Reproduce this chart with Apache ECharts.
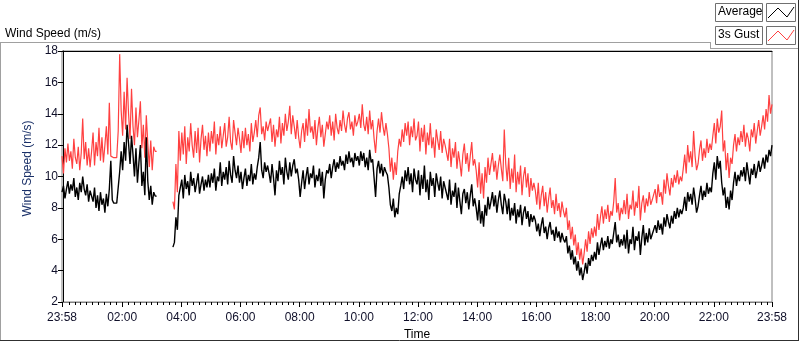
<!DOCTYPE html>
<html>
<head>
<meta charset="utf-8">
<script src="https://cdn.jsdelivr.net/npm/echarts@6/dist/echarts.min.js"></script>
<style>
  html, body { margin: 0; padding: 0; background: #fff; }
  #chart { width: 800px; height: 342px; }
</style>
</head>
<body>
<div id="chart"></div>
<script>
// samples every 3 minutes, starting 23:58 (= -2 min) and running one day
const sampleStart = -2;
const sampleStep = 3;

// Average wind speed (m/s), one row per hour
const avgSpeed = [
  9.0, 9.4, 8.6, 9.2, 9.7, 8.9, 9.5, 9.1, 9.9, 8.7, 9.3, 8.5, 9.6, 9.0, 10.0, 9.2, 8.8, 9.5, 8.4, 9.1,
  9.1, 8.4, 9.3, 8.0, 8.8, 7.8, 9.0, 8.2, 8.6, 7.7, 8.9, 8.1, 9.2, 11.0, 8.5, 8.3, 8.3, 8.3, 8.4, 10.3,
  11.6, 10.4, 12.2, 11.0, 13.3, 12.1, 10.8, 12.6, 11.4, 10.0, 11.8, 9.6, 10.9, 12.0, 9.4, 10.3, 8.8, 12.5, 9.7, 8.5,
  9.4, 8.2, 9.0, 8.75, 8.75, null, null, null, null, null, null, null, null, null, null, 5.5, 5.8, 7.4, 6.6, 8.8,
  8.9, 9.8, 8.6, 10.1, 9.2, 9.7, 8.8, 10.3, 9.4, 9.9, 9.0, 9.6, 10.2, 8.9, 9.5, 10.0, 9.1, 9.8, 9.3, 10.1,
  9.3, 10.2, 9.6, 10.5, 9.1, 10.0, 9.7, 10.9, 9.4, 10.3, 9.8, 10.6, 9.5, 11.0, 10.1, 9.6, 11.3, 10.4, 9.9, 10.7,
  9.6, 10.3, 9.2, 9.9, 10.5, 9.4, 10.1, 9.7, 10.8, 9.5, 10.2, 9.8, 10.6, 11.2, 12.2, 10.4, 9.9, 10.9, 10.3, 10.7,
  10.2, 9.6, 10.8, 9.9, 8.8, 10.4, 9.7, 11.0, 10.1, 10.6, 9.5, 11.2, 10.3, 9.8, 10.9, 10.0, 10.7, 11.1, 10.2, 10.5,
  9.8, 8.7, 9.6, 10.4, 9.2, 10.0, 10.6, 9.5, 10.2, 9.9, 10.7, 9.3, 10.1, 9.7, 10.5, 9.4, 10.3, 8.6, 9.8, 10.4,
  10.2, 10.8, 9.9, 10.6, 11.1, 10.3, 10.9, 10.5, 11.3, 10.7, 11.0, 10.4, 11.4, 10.8, 11.6, 10.9, 11.2, 10.6, 11.5, 11.0,
  11.3, 10.7, 11.6, 11.0, 11.5, 10.6, 11.2, 10.4, 11.7, 10.9, 11.1, 9.9, 8.7, 10.5, 11.0, 10.2, 10.8, 10.0, 10.6, 10.3,
  10.1, 9.3, 8.2, 7.8, 8.6, 7.4, 8.0, 7.6, 8.9, 9.4, 10.0, 9.2, 10.4, 9.7, 10.6, 9.5, 10.2, 9.0, 10.5, 9.8,
  9.5, 10.4, 8.8, 10.1, 9.2, 10.7, 9.0, 9.8, 8.5, 10.3, 9.4, 9.9, 8.7, 10.2, 9.6, 9.1, 10.0, 8.6, 9.7, 9.3,
  9.4, 8.5, 9.8, 8.2, 9.1, 8.7, 9.6, 8.0, 9.3, 8.4, 7.6, 8.9, 9.2, 8.3, 9.0, 7.9, 8.8, 9.5, 8.1, 8.6,
  8.0, 7.2, 8.5, 7.0, 7.8, 6.8, 8.2, 7.5, 8.7, 7.9, 8.4, 9.0, 8.1, 8.8, 7.7, 8.5, 9.1, 8.2, 7.6, 8.9,
  8.4, 7.6, 8.6, 7.2, 8.0, 7.5, 8.3, 7.0, 7.9, 7.4, 8.2, 6.9, 7.7, 8.1, 7.3, 7.8, 6.8, 7.6, 7.1, 7.5,
  7.2, 6.5, 7.0, 6.2, 6.9, 7.4, 6.4, 6.8, 6.0, 6.7, 7.1, 6.3, 6.6, 5.9, 6.8, 6.1, 6.5, 5.8, 6.4, 6.0,
  5.8, 6.2, 5.1, 5.6, 4.7, 5.3, 4.4, 4.9, 4.0, 4.6, 3.7, 4.2, 3.4, 3.9, 4.5, 3.8, 4.8, 4.3, 5.0, 4.6,
  5.2, 4.7, 5.8, 5.0, 5.6, 6.1, 5.3, 5.9, 5.5, 6.2, 5.4, 6.0, 5.7, 6.4, 7.1, 5.8, 6.3, 5.5, 6.0, 5.6,
  6.3, 5.4, 6.6, 5.1, 6.0, 5.7, 6.8, 5.3, 6.2, 5.9, 6.5, 5.0, 6.1, 6.9, 5.6, 6.4, 5.8, 6.7, 6.0, 6.3,
  6.2, 6.9, 6.4, 7.2, 6.6, 7.0, 6.3, 7.4, 6.8, 7.6, 7.1, 6.7, 7.5, 7.0, 7.8, 7.3, 8.0, 7.4, 7.9, 7.6,
  8.0, 8.7, 7.8, 9.0, 8.4, 8.9, 8.2, 9.3, 8.6, 7.7, 8.1, 8.8, 9.4, 8.5, 9.1, 8.7, 9.6, 8.9, 9.3, 9.0,
  10.2, 10.9, 9.8, 11.3, 10.5, 11.0, 9.6, 8.8, 9.3, 8.0, 8.7, 7.9, 9.1, 8.5, 9.6, 10.3, 9.4, 10.1, 9.7, 10.4,
  10.0, 10.6, 9.7, 10.9, 10.2, 9.5, 10.5, 10.1, 10.8, 9.9, 10.4, 11.0, 10.3, 10.7, 11.2, 10.5, 11.4, 10.9, 11.7, 11.3,
  12.0
];

// 3 second gust (m/s)
const gustSpeed = [
  11.3, 10.2, 11.8, 10.9, 12.1, 11.0, 11.6, 10.5, 12.4, 11.2, 10.8, 11.9, 10.4, 11.5, 13.7, 11.1, 12.2, 10.7, 11.8, 10.6,
  11.6, 12.8, 10.7, 12.2, 11.3, 13.1, 11.0, 12.5, 10.9, 12.0, 13.2, 11.4, 14.7, 11.3, 11.2, 11.2, 11.2, 11.2, 12.9, 17.8,
  14.2, 12.6, 15.4, 13.0, 16.3, 14.0, 12.4, 15.6, 13.2, 12.0, 14.4, 12.5, 13.6, 14.8, 11.8, 13.3, 11.2, 13.9, 12.1, 10.6,
  12.3, 10.4, 11.9, 11.6, 11.6, null, null, null, null, null, null, null, null, null, null, 8.4, 7.9, 10.8, 9.0, 12.9,
  11.0, 12.8, 11.4, 13.2, 10.8, 12.5, 11.6, 13.4, 12.0, 11.2, 12.9, 11.5, 13.1, 10.9, 12.4, 13.3, 11.7, 12.6, 11.3, 12.8,
  11.6, 12.9, 12.1, 13.5, 11.4, 12.7, 12.0, 13.2, 11.8, 12.6, 13.4, 11.9, 12.5, 13.8, 12.2, 11.7, 13.6, 12.8, 12.0, 13.1,
  12.4, 11.5, 12.9, 11.8, 13.1, 12.0, 12.7, 11.6, 13.4, 12.2, 12.8, 13.6, 12.5, 13.9, 14.4, 12.7, 13.2, 12.3, 13.5, 12.9,
  12.8, 13.7, 12.2, 13.3, 11.9, 13.0, 12.5, 13.8, 12.1, 13.4, 12.6, 14.0, 12.9, 13.5, 14.5, 12.7, 13.9, 13.2, 12.4, 13.6,
  12.5, 11.8, 12.9, 13.4, 12.2, 13.7, 12.6, 14.3, 12.8, 13.2, 12.4, 13.6, 12.0, 13.1, 13.8, 12.5, 13.3, 11.9, 12.7, 13.5,
  13.0, 13.9, 12.6, 13.5, 12.3, 14.0, 13.1, 12.7, 13.6, 12.9, 14.2, 13.3, 12.8, 13.7, 14.1, 13.0, 13.5, 12.6, 13.9, 13.2,
  13.5, 14.0, 13.1, 14.6, 13.3, 12.9, 13.8, 12.7, 14.2, 13.0, 13.6, 12.4, 11.5, 12.9, 13.7, 12.8, 14.1, 13.2, 12.6, 13.4,
  12.7, 11.8, 10.3, 11.2, 9.8, 10.9, 10.1, 11.6, 12.4, 11.9, 13.0, 12.2, 13.4, 12.6, 13.5, 12.0, 13.2, 12.5, 13.7, 12.3,
  12.6, 13.5, 11.6, 13.1, 12.2, 13.3, 11.4, 12.8, 12.0, 13.4, 11.8, 12.5, 11.2, 13.0, 12.3, 11.7, 12.9, 11.5, 12.4, 12.0,
  12.0, 11.0, 12.4, 10.6, 11.8, 11.2, 12.2, 10.5, 11.6, 10.9, 10.0, 11.4, 12.1, 10.8, 11.5, 10.3, 11.3, 12.2, 10.7, 11.1,
  10.4, 9.3, 10.9, 8.9, 10.2, 8.6, 10.6, 9.6, 11.2, 10.1, 10.8, 11.5, 10.3, 11.0, 9.8, 10.7, 11.4, 10.5, 9.7, 13.0,
  10.8, 9.7, 11.2, 9.2, 10.5, 9.6, 11.4, 9.0, 10.3, 9.5, 10.7, 8.8, 10.0, 10.6, 9.3, 10.2, 8.7, 9.9, 9.1, 9.6,
  9.1, 8.2, 9.6, 7.9, 8.8, 9.4, 8.1, 9.0, 7.7, 8.6, 9.3, 8.0, 8.5, 7.6, 8.9, 7.8, 8.3, 7.4, 8.4, 7.8,
  7.4, 8.0, 6.6, 7.2, 6.0, 6.8, 5.6, 6.3, 5.0, 5.8, 4.7, 5.4, 4.4, 5.1, 6.0, 5.2, 6.5, 5.7, 6.7, 6.1,
  6.8, 6.2, 7.6, 6.6, 7.4, 8.1, 7.0, 7.9, 7.3, 8.2, 7.1, 7.8, 7.5, 8.4, 9.9, 7.7, 8.3, 7.2, 8.0, 7.6,
  8.5, 7.6, 8.9, 7.3, 8.2, 7.9, 9.1, 7.5, 8.4, 8.0, 9.4, 7.2, 8.3, 8.8, 7.7, 8.6, 8.1, 9.0, 8.2, 8.5,
  8.6, 9.2, 8.3, 9.5, 8.7, 9.0, 8.2, 9.8, 8.9, 10.2, 9.4, 8.8, 9.9, 9.3, 10.1, 9.6, 10.4, 9.5, 10.0, 9.7,
  10.5, 11.4, 10.2, 12.0, 10.9, 11.6, 10.6, 12.9, 11.3, 10.4, 10.8, 11.7, 12.3, 11.0, 11.8, 11.2, 12.4, 11.5, 12.1, 11.7,
  12.6, 13.4, 12.1, 13.7, 12.8, 13.2, 14.2, 11.6, 12.3, 10.4, 11.5, 9.9, 11.2, 10.8, 12.0, 12.7, 11.6, 12.5, 12.0, 12.9,
  12.2, 13.3, 11.9, 12.8, 12.4, 11.6, 13.0, 12.5, 13.4, 12.1, 12.9, 13.6, 12.6, 13.2, 13.9, 13.0, 14.3, 13.5, 15.2, 14.0,
  14.6
];

// x tick labels (minutes after midnight), 23:58 .. 23:58
const majorTicks = [-2, 120, 240, 360, 480, 600, 720, 840, 960, 1080, 1200, 1320, 1438];
const minorTicks = [];
for (let m = 12; m < 1438; m += 12) {
  if (m % 120 !== 0) minorTicks.push(m);
}

const fontName = 'Liberation Sans';

const toPairs = values => values.map((v, i) => [sampleStart + i * sampleStep, v]);

const fmtTime = v => {
  const m = ((Math.round(v) % 1440) + 1440) % 1440;
  const hh = String(Math.floor(m / 60)).padStart(2, '0');
  const mm = String(m % 60).padStart(2, '0');
  return hh + ':' + mm;
};

var chartDom = document.getElementById('chart');
var myChart = echarts.init(chartDom);

const zigzag = (x, y, color) => ({
  type: 'polyline',
  shape: { points: [[x, y + 14], [x + 10, y + 4], [x + 19, y + 13], [x + 26, y + 3]] },
  style: { stroke: color, lineWidth: 1, fill: null }
});

const legendBox = (x, y, w, h) => ({
  type: 'rect',
  shape: { x: x, y: y, width: w, height: h },
  style: { fill: '#fff', stroke: '#707070', lineWidth: 1 }
});

const hline = (x1, x2, y, color) => ({
  type: 'line', shape: { x1: x1, y1: y, x2: x2, y2: y }, style: { stroke: color, lineWidth: 1 }
});
const vline = (x, y1, y2, color) => ({
  type: 'line', shape: { x1: x, y1: y1, x2: x, y2: y2 }, style: { stroke: color, lineWidth: 1 }
});

const option = {
  animation: false,
  backgroundColor: '#fff',
  title: {
    text: 'Wind Speed (m/s)',
    left: 0,
    top: 23,
    textStyle: { fontFamily: fontName, fontSize: 12, fontWeight: 'normal', color: '#000' }
  },
  grid: {
    left: 62, right: 28, top: 51, bottom: 40,
    outerBoundsMode: 'none',
    containLabel: false,
    show: true, borderColor: '#808080', borderWidth: 1
  },
  xAxis: [
    {
      type: 'value',
      min: -2,
      max: 1438,
      name: 'Time',
      nameLocation: 'middle',
      nameGap: 27,
      nameTextStyle: { fontFamily: fontName, fontSize: 12, color: '#000' },
      axisLine: { show: true, lineStyle: { color: '#808080' } },
      axisTick: { show: true, customValues: majorTicks, length: 5, lineStyle: { color: '#000' } },
      axisLabel: {
        customValues: majorTicks,
        formatter: fmtTime,
        margin: 10,
        fontFamily: fontName, fontSize: 12, color: '#10102a'
      },
      splitLine: { show: false }
    },
    {
      type: 'value',
      min: -2,
      max: 1438,
      position: 'bottom',
      axisLine: { show: false },
      axisTick: { show: true, customValues: minorTicks, length: 3, lineStyle: { color: '#000' } },
      axisLabel: { show: false },
      splitLine: { show: false }
    },
    {
      type: 'value',
      min: -2,
      max: 1438,
      position: 'top',
      axisLine: { show: true, lineStyle: { color: '#000' } },
      axisTick: { show: false },
      axisLabel: { show: false },
      splitLine: { show: false }
    }
  ],
  yAxis: {
    type: 'value',
    min: 2,
    max: 18,
    interval: 2,
    name: 'Wind Speed (m/s)',
    nameLocation: 'middle',
    nameRotate: 90,
    nameGap: 26,
    nameTextStyle: { fontFamily: fontName, fontSize: 12, color: '#1a3068', padding: [0, 0, 0, 16] },
    axisLine: { show: true, lineStyle: { color: '#000' } },
    axisTick: { show: true, length: 5, lineStyle: { color: '#000' } },
    axisLabel: { margin: 4, fontFamily: fontName, fontSize: 12, color: '#10102a' },
    splitLine: { show: false }
  },
  series: [
    {
      name: '3s Gust',
      type: 'line',
      data: toPairs(gustSpeed),
      showSymbol: false,
      connectNulls: false,
      lineStyle: { color: '#ff4040', width: 1.2 },
      itemStyle: { color: '#ff4040' },
      z: 2
    },
    {
      name: 'Average',
      type: 'line',
      data: toPairs(avgSpeed),
      showSymbol: false,
      connectNulls: false,
      lineStyle: { color: '#000', width: 1.4 },
      itemStyle: { color: '#000' },
      z: 3
    }
  ],
  graphic: [
    // outer panel
    hline(0, 710, 42.5, '#a0a0a0'),
    vline(0.5, 42, 341, '#a0a0a0'),
    vline(710.5, 42, 48, '#a0a0a0'),
    hline(710, 798, 48.5, '#a0a0a0'),
    hline(0, 799, 340.5, '#303030'),
    vline(798.5, 0, 341, '#303030'),
    // legend
    legendBox(715.5, 3.5, 47, 18),
    legendBox(766.5, 3.5, 29, 18),
    legendBox(715.5, 26.5, 47, 18),
    legendBox(766.5, 26.5, 29, 18),
    {
      type: 'text', left: 718, top: 6,
      style: { text: 'Average', fontFamily: fontName, fontSize: 12, fill: '#000' }
    },
    {
      type: 'text', left: 718, top: 29,
      style: { text: '3s Gust', fontFamily: fontName, fontSize: 12, fill: '#000' }
    },
    zigzag(768, 4, '#000'),
    zigzag(768, 27, '#ff4040')
  ]
};

myChart.setOption(option);
</script>
</body>
</html>
